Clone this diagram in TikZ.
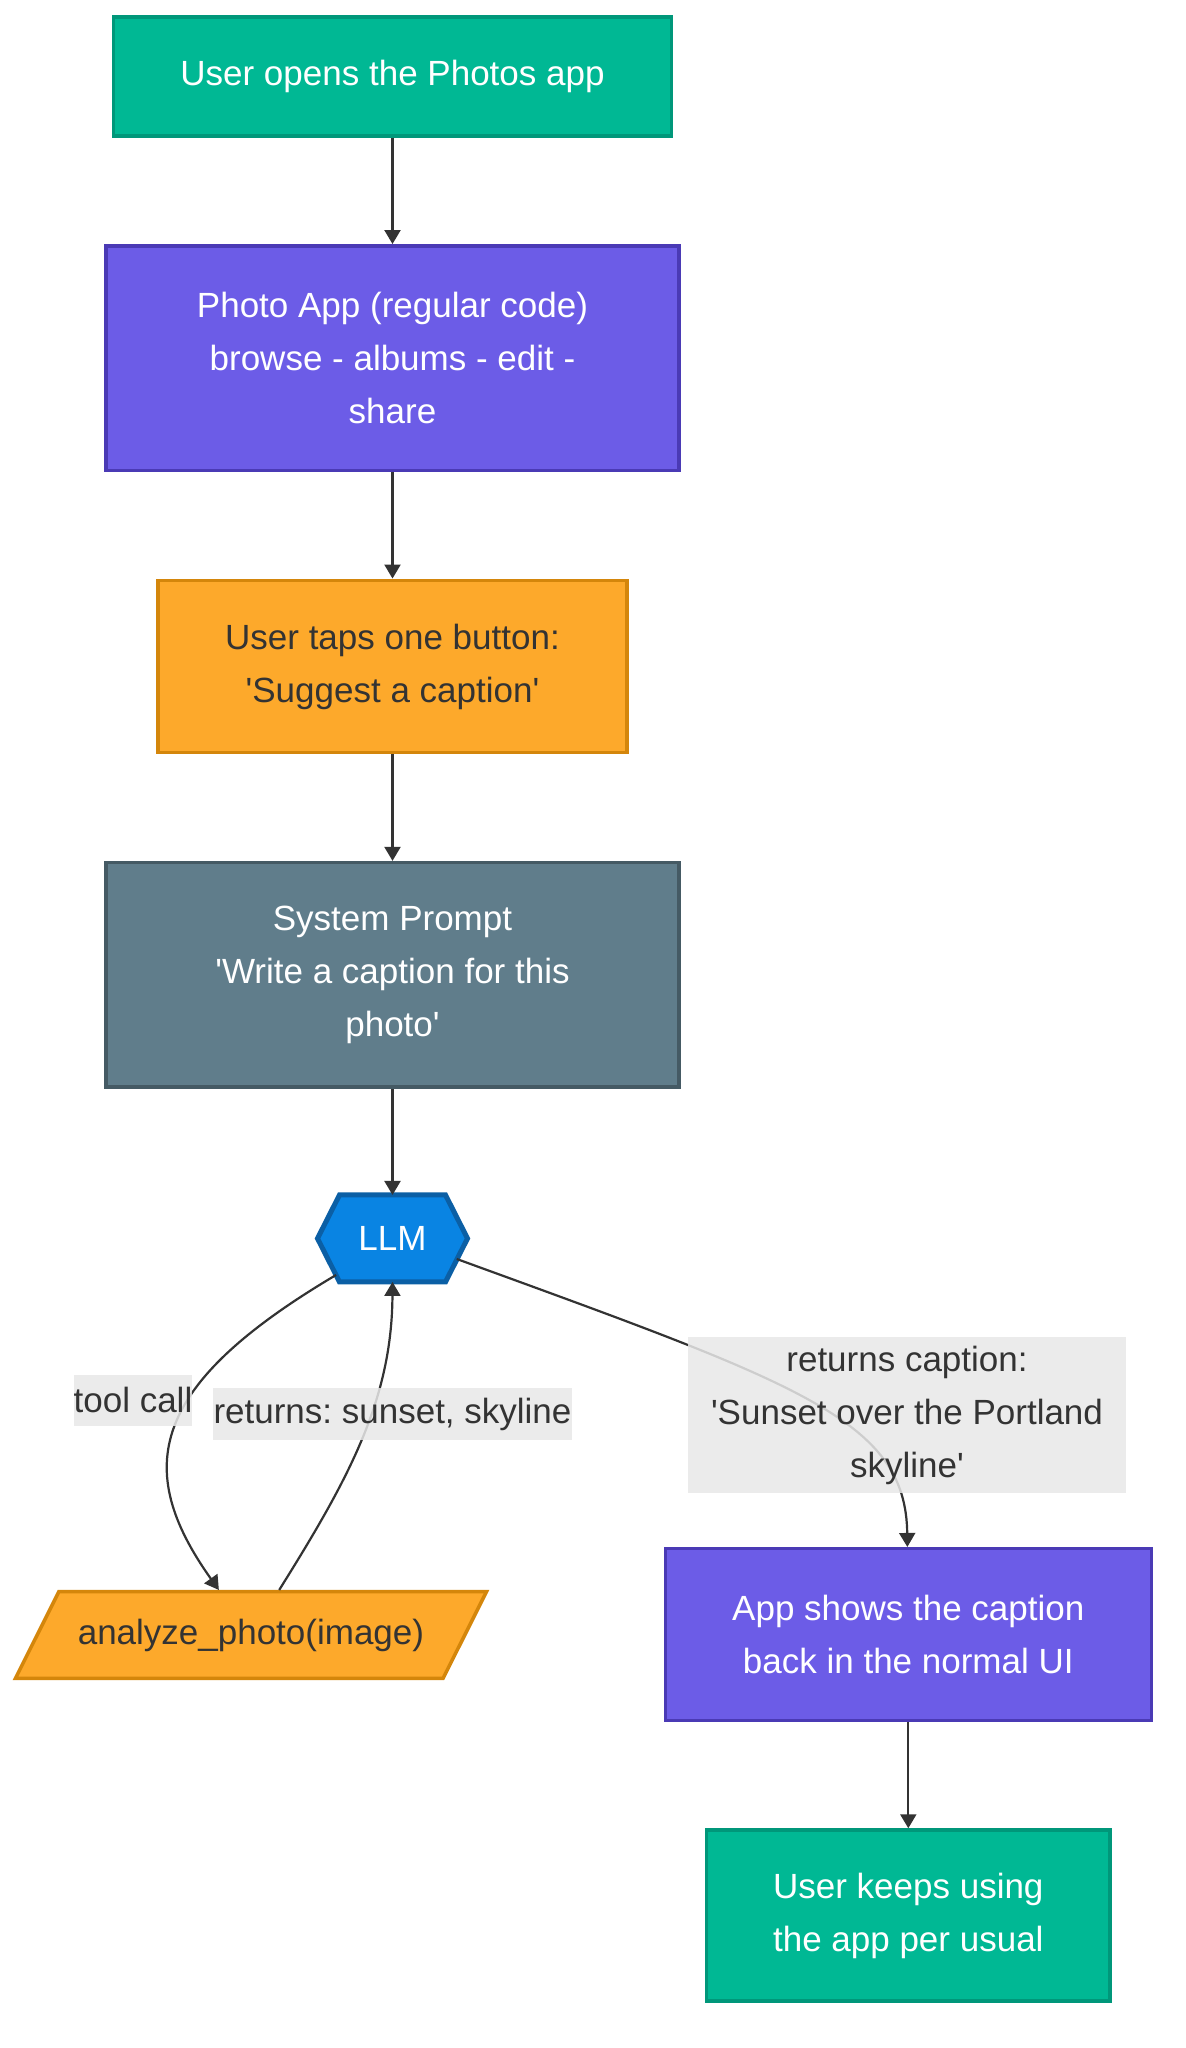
\documentclass[tikz,border=0pt]{standalone}
\usepackage{fontspec}
\setmainfont{Liberation Sans}
\usepackage{xcolor}
\usepackage{tikz}
\usetikzlibrary{arrows.meta,shapes,positioning,backgrounds}
\frenchspacing

\definecolor{tealfill}{HTML}{00B894}
\definecolor{tealline}{HTML}{00977A}
\definecolor{purplefill}{HTML}{6C5CE7}
\definecolor{purpleline}{HTML}{4A3AB5}
\definecolor{orangefill}{HTML}{FDA92B}
\definecolor{orangeline}{HTML}{D4860B}
\definecolor{slatefill}{HTML}{607D8B}
\definecolor{slateline}{HTML}{455A64}
\definecolor{llmfill}{HTML}{0984E3}
\definecolor{llmline}{HTML}{0B5FA5}
\definecolor{labelbg}{HTML}{E8E8E8}
\definecolor{darktext}{HTML}{333333}

\tikzset{
  box/.style={draw, line width=1.75pt, align=center, text=white, inner sep=0pt,
    font=\fontsize{17.5}{26.5}\selectfont},
  greenbox/.style={box, fill=tealfill, draw=tealline},
  purplebox/.style={box, fill=purplefill, draw=purpleline},
  orangebox/.style={box, fill=orangefill, draw=orangeline, text=darktext},
  slatebox/.style={box, fill=slatefill, draw=slateline},
  llmnode/.style={align=center, text=white, inner sep=0pt, outer sep=0pt,
    font=\fontsize{17.5}{26.5}\selectfont},
  llmhex/.style={fill=llmfill, draw=llmline, line width=2.5pt, line join=miter},
  toolbox/.style={orangebox, shape=trapezium, trapezium left angle=63.4,
    trapezium right angle=116.6, trapezium stretches body, inner ysep=13.5pt},
  flow/.style={-{Triangle[length=7pt,width=8pt]}, line width=1.1pt, draw=darktext},
  edgelabel/.style={fill=labelbg, fill opacity=0.85, text opacity=1, text=darktext,
    align=center, inner xsep=0pt, inner ysep=0pt,
    font=\fontsize{17.5}{26.5}\selectfont}
}

\begin{document}
\begin{tikzpicture}[x=0.5pt, y=-0.5pt, node distance=53.2pt]
\useasboundingbox (0,0) rectangle (1186,2048);

% main column
\node[greenbox, minimum width=278.9pt, minimum height=59.4pt] (open) at (392.5,76.5) {User opens the Photos app};
\node[purplebox, minimum width=286.5pt, minimum height=112.3pt, below=of open] (app) {Photo App (regular code)\\browse - albums - edit -\\share};
\node[orangebox, minimum width=234.5pt, minimum height=86.2pt, below=of app] (tap) {User taps one button:\\\textquotesingle Suggest a caption\textquotesingle};
\node[slatebox, minimum width=286.5pt, minimum height=112.3pt, below=of tap] (prompt) {System Prompt\\\textquotesingle Write a caption for this\\photo\textquotesingle};
\node[llmnode, minimum width=75pt, minimum height=43.5pt, below=53pt of prompt] (llm) {LLM};
\begin{scope}[on background layer]
  \draw[llmhex] (llm.west) -- ([xshift=11pt]llm.north west) -- ([xshift=-11pt]llm.north east)
    -- (llm.east) -- ([xshift=-11pt]llm.south east) -- ([xshift=11pt]llm.south west) -- cycle;
\end{scope}

% branches
\node[toolbox, minimum width=235.5pt, below=154pt of llm, xshift=-70.75pt] (tool) {analyze\_photo(image)};
\node[purplebox, minimum width=243pt, minimum height=86pt, below=132.5pt of llm, xshift=257.9pt] (show) {App shows the caption\\back in the normal UI};
\node[greenbox, minimum width=201.8pt, minimum height=85.5pt, below=52.9pt of show] (keep) {User keeps using\\the app per usual};

\draw[flow] (open) -- (app);
\draw[flow] (app) -- (tap);
\draw[flow] (tap) -- (prompt);
\draw[flow] (prompt) -- (llm);
\draw[flow] ([xshift=-28.2pt,yshift=3.5pt]llm.south) .. controls (150,1385) and (132,1468) .. (tool);
\draw[flow] (tool) .. controls (348,1480) and (392,1400) .. (llm.south);
\draw[flow] ([xshift=32.1pt,yshift=11.5pt]llm.south) .. controls (800,1384) and (906,1420) .. (show);
\draw[flow] (show) -- (keep);

% edge labels
\node[edgelabel, minimum width=58.8pt, minimum height=25.5pt] (callLabel) at (133,1400) {tool call};
\node[edgelabel, minimum width=179.5pt, minimum height=26.2pt] (sunsetLabel) at (392.5,1414) {returns: sunset, skyline};
\node[edgelabel, minimum width=219pt, minimum height=78.4pt] (captionLabel) at (907,1415) {returns caption:\\\textquotesingle Sunset over the Portland\\skyline\textquotesingle};
\end{tikzpicture}
\end{document}
